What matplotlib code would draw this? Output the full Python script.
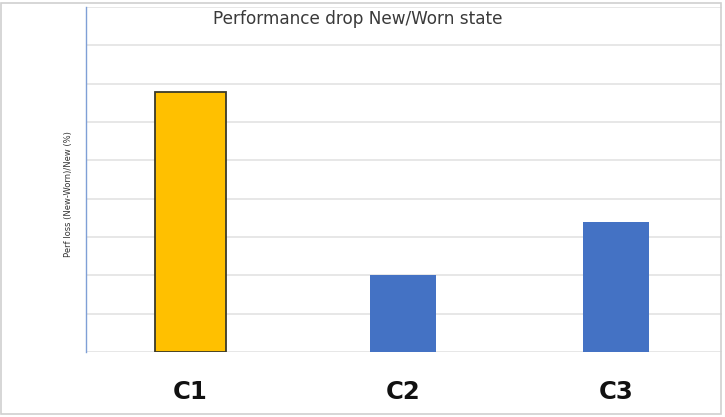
import matplotlib.pyplot as plt
from matplotlib.patches import Rectangle

categories = ['C1', 'C2', 'C3']
perf_loss = [6.78, 2.0, 3.38]
bar_colors = ['#FFC000', '#4472C4', '#4472C4']
edge_colors = ['#3a3a2a', '#4472C4', '#4472C4']

fig = plt.figure(figsize=(7.25, 4.17), dpi=100)
ax = fig.add_axes([86/725, 1-352/417, (722-86)/725, (352-7)/417])

x = range(len(categories))
ax.bar(x, perf_loss, width=[0.335, 0.31, 0.31], color=bar_colors, edgecolor=edge_colors,
       linewidth=[1.3, 0, 0], zorder=3)

ax.set_xlim(-0.49, 2.5)
ax.set_ylim(0, 9)
ax.set_yticks(range(10))
ax.yaxis.grid(True, color='#e3e3e3', linewidth=1.2, zorder=0)
ax.tick_params(axis='y', left=False, labelleft=False)
ax.tick_params(axis='x', bottom=False, pad=17)
ax.set_xticks(list(x))
ax.set_xticklabels(categories, fontsize=17.5, fontweight='bold', color='#111111')

for s in ['top', 'right', 'bottom']:
    ax.spines[s].set_visible(False)
ax.spines['left'].set_color('#7f9fd6')
ax.spines['left'].set_linewidth(1.0)

ax.set_ylabel('Perf loss (New-Worn)/New (%)', fontsize=6, color='#333333')
ax.yaxis.set_label_coords(-0.021, 0.458)
ax.text(0.199, 0.965, 'Performance drop New/Worn state', transform=ax.transAxes,
        fontsize=12.2, color='#3a3a3a', ha='left', va='center',
        bbox=dict(facecolor='white', edgecolor='none', pad=1))

fig.patches.append(Rectangle((0.002, 0.008), 0.992, 0.985, transform=fig.transFigure,
                             fill=False, edgecolor='#d0d0d0', linewidth=1.2))

fig.savefig('out.png', dpi=100)
